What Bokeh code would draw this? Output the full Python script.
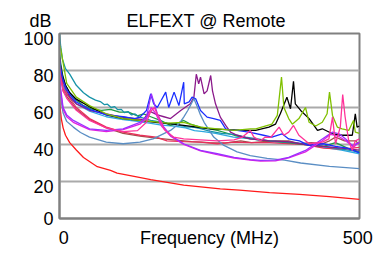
from bokeh.plotting import figure
from bokeh.models import FixedTicker, Range1d
from bokeh.embed import file_html
from bokeh.resources import INLINE

# ---- data (frequency MHz, level dB) ----
red_f = [0, 1, 3, 6, 10, 17, 28, 40, 63, 85, 96, 120, 152, 207, 268, 300, 350, 400, 450, 500]
red_v = [65, 60, 54, 49, 45, 41, 37, 33, 28, 26, 24.5, 23, 21, 18, 16, 15.3, 14, 13, 11.8, 10.3]

steel_f = [0, 2, 6, 12, 23, 35, 50, 78, 106, 134, 156, 185, 200, 207, 214, 218, 224, 229, 235, 241,
           257, 274, 296, 318, 346, 375, 402, 450, 500]
steel_v = [75, 65, 57, 52.5, 49.4, 46.5, 44, 41.3, 40.4, 41.3, 43, 47.6, 51.5, 54.8, 58.5, 61, 64.7, 61, 56, 52,
           44, 39.5, 36, 34, 32.5, 31.5, 30, 28.2, 27]

teal_f = [0, 2, 5, 10, 17, 28, 40, 50, 60, 68, 75, 80, 86, 92, 97, 103, 108, 114, 120, 126, 132, 140, 152,
          165, 180, 195, 210, 225, 235, 250, 270, 290, 310, 330, 350, 370, 390, 410, 430, 450, 470, 490, 500]
teal_v = [100, 93, 86, 81, 78, 72, 68, 65.6, 64, 63.2, 61.5, 61.8, 60, 60.5, 58.8, 59, 57.2, 57.8, 56, 56.5, 55, 54.2, 53,
          52.3, 51.5, 50.8, 49.6, 49.3, 48.6, 47.2, 46, 45.5, 44, 43, 42, 41.5, 41, 40.3, 39.5, 38.5, 37.5, 36.5, 35.8]

green_f = [0, 2, 5, 10, 17, 28, 40, 55, 70, 85, 100, 115, 130, 140, 152, 168, 185, 200, 207, 218, 235, 263,
           291, 318, 350, 380, 410, 440, 460, 480, 500]
green_v = [90, 84, 78, 72, 68, 64, 61, 59, 58.5, 59, 57.5, 57.5, 55.5, 56.5, 55, 53, 50.3, 52, 53, 51, 49.4, 47.6,
           45, 43, 42, 41, 40, 39, 41, 38, 36]

olive_f = [0, 2, 12, 28, 50, 78, 106, 134, 152, 180, 207, 235, 263, 291, 318, 327, 354, 363, 370, 374, 382, 388,
           399, 410, 416, 427, 438, 446, 450, 455, 463, 471, 482, 490, 493, 500]
olive_v = [94, 91.7, 73, 65.6, 61, 56.6, 54, 53, 52.5, 51.5, 52, 49.4, 48.5, 47.6, 48.5, 48.5, 51, 55.7, 76.4, 60, 54, 51,
           54, 60, 52, 50, 52, 56.6, 68.3, 55.7, 49.4, 48.5, 47.6, 53, 46.7, 46]

black_f = [0, 2, 5, 10, 17, 28, 50, 78, 106, 134, 160, 190, 220, 250, 280, 300, 327, 349, 360, 368, 379, 385,
           390, 393, 402, 416, 430, 438, 455, 471, 488, 493, 496, 500]
black_v = [87, 82, 77, 72, 68, 64.5, 60.5, 56, 54, 53, 52, 51, 49.8, 48.5, 48, 47.8, 47.6, 49.4, 51, 56.6, 65.6, 59.3,
           74.2, 62, 58.4, 54, 47.6, 48.5, 45.8, 45, 45, 56.6, 49.4, 50]

blue_f = [0, 2, 5, 10, 17, 28, 50, 78, 106, 125, 134, 145, 152, 157, 163, 168, 177, 182, 191, 199, 207, 208,
          216, 221, 227, 235, 246, 257, 268, 277, 285, 296, 318, 340, 354, 371, 382, 400, 415, 440, 460, 480, 500]
blue_v = [86, 81, 76, 71, 67, 63, 59, 56, 55, 54, 54.8, 58.4, 67.4, 62, 60, 63, 68.3, 60, 68.3, 61, 73.7, 62,
          63, 65.6, 64.7, 58.4, 54.8, 54, 53, 48.5, 47.6, 47.6, 46.5, 45, 44, 45.8, 43, 42, 39.5, 40.4, 39, 38, 35.5]

purple_f = [0, 2, 5, 10, 17, 28, 50, 100, 140, 150, 163, 174, 185, 202, 218, 224, 228, 232, 235, 241, 246,
            252, 255, 260, 268, 277, 285, 296, 318, 350, 380, 410, 440, 470, 500]
purple_v = [87, 81, 75, 70, 66, 62, 58.5, 55, 53.5, 58, 56, 55, 54, 58.4, 62, 65.6, 78, 72.8, 76.4, 67.4, 69,
            77.3, 69, 62, 54.8, 50.3, 46.7, 45, 43, 42, 41.5, 40, 39, 38, 37]

violet_f = [0, 2, 6, 12, 23, 50, 78, 106, 134, 145, 153, 158, 163, 174, 185, 207, 235, 263, 291, 318, 335,
            360, 382, 410, 438, 455, 466, 477, 488, 500]
violet_v = [80, 70, 60, 56, 53, 48.5, 47.6, 48.5, 52, 54.8, 67.4, 62, 56.6, 49.4, 45, 40.4, 36.8, 35, 33, 31.8, 31.4,
            31.5, 33, 36.8, 43, 46.7, 45.8, 43, 39.5, 41]

magenta_f = [0, 2, 6, 12, 23, 50, 78, 106, 134, 145, 153, 160, 170, 185, 207, 235, 263, 291, 318, 335, 360,
             382, 410, 438, 452, 465, 477, 490, 500]
magenta_v = [78, 68, 59, 55, 52, 48, 47, 48, 51, 54, 60, 57, 50, 44.5, 40, 36.5, 34.5, 32.7, 31.5, 31, 31.2,
             32.8, 36, 42, 45.5, 44.5, 42, 38.5, 41.5]

crimson_f = [0, 2, 6, 12, 28, 50, 78, 106, 134, 161, 179, 207, 235, 263, 291, 318, 350, 380, 410, 440, 470, 500]
crimson_v = [85, 78, 70, 67.5, 60, 54, 49.4, 46.7, 45, 44, 42, 41.5, 41.3, 40.4, 41.3, 41, 41, 40.5, 40, 38, 37.5, 38.5]

pink_f = [0, 2, 6, 12, 28, 50, 78, 106, 130, 145, 152, 158, 165, 175, 190, 207, 235, 263, 291, 305, 318, 324,
          335, 343, 352, 366, 374, 382, 390, 399, 416, 438, 449, 455, 460, 468, 472, 476, 482, 488, 493, 500]
pink_v = [82, 76, 69, 65, 58.5, 53, 49, 47, 47.5, 52, 58, 60, 55, 48, 44, 43, 42.5, 42, 42.5, 44, 47.6, 44,
          42, 44, 43.8, 49.4, 45, 46.7, 50.3, 45, 40.4, 41.3, 43, 54.8, 40.4, 49.4, 67, 55, 42, 36.8, 42, 43]

brown_f = [0, 2, 6, 12, 28, 50, 78, 106, 134, 161, 190, 220, 250, 275, 302, 320, 340, 360, 382, 400, 420, 438,
           450, 460, 475, 493, 500]
brown_v = [84, 77, 69, 66, 59, 53.5, 49, 46, 44.5, 43.5, 42.5, 41.5, 41, 40.8, 42, 41, 41.5, 42, 42, 40.5, 41, 40.4,
           42, 44, 42, 42, 40]

lblue_f = [0, 2, 6, 12, 28, 50, 78, 106, 130, 150, 170, 190, 210, 225, 240, 260, 290, 320, 350, 380, 410, 440, 470, 500]
lblue_v = [88, 80, 72, 67, 62, 58, 55, 53.5, 52.5, 51.5, 50.5, 50, 49, 47.5, 47, 46, 44, 43, 41.5, 41, 40, 38.5, 37, 35]

y_ticks = [0, 20, 40, 60, 80, 100]
y_tick_labels = ["0", "20", "40", "60", "80", "100"]
x_tick_labels = ["0", "Frequency (MHz)", "500"]
x_label_at = [0, 250, 500]
unit_text = "dB"
title_text = "ELFEXT @ Remote"

series = [
    (red_f, red_v, "#ff1a1a"),
    (lblue_f, lblue_v, "#2fa8e0"),
    (brown_f, brown_v, "#a0504a"),
    (crimson_f, crimson_v, "#e8305a"),
    (green_f, green_v, "#229944"),
    (teal_f, teal_v, "#1793a8"),
    (black_f, black_v, "#000000"),
    (purple_f, purple_v, "#8b1a8b"),
    (blue_f, blue_v, "#1a2eff"),
    (steel_f, steel_v, "#5a8ec4"),
    (olive_f, olive_v, "#80c000"),
    (magenta_f, magenta_v, "#e020e0"),
    (violet_f, violet_v, "#9b30ff"),
    (pink_f, pink_v, "#ff3399"),
]

FONT = "Liberation Sans"

p = figure(width=374, height=250, output_backend="svg", toolbar_location=None,
           title=unit_text + "\u00a0" * 15 + title_text,
           x_range=Range1d(0, 500), y_range=Range1d(0, 100),
           min_border_left=59, min_border_right=15, min_border_top=33, min_border_bottom=32)

p.title.align = "left"
p.title.offset = -30
p.title.text_font = FONT
p.title.text_font_size = "18px"
p.title.text_font_style = "normal"
p.title.text_color = "#000000"
p.title.standoff = 6

for f, v, c in series:
    p.line(f, v, line_color=c, line_width=1.3)

# tick labels: the original draws the y labels slightly below their grid lines
# and the x end labels slightly inward
y_shift = 2.8          # dB  (~5 px)
x_shift = [7, 0, -3]   # MHz
y_pos = [round(t - y_shift, 2) if t > 0 else t for t in y_ticks]
x_pos = [a + s for a, s in zip(x_label_at, x_shift)]

p.xaxis.ticker = FixedTicker(ticks=x_pos)
p.xaxis.major_label_overrides = {k: t for k, t in zip(x_pos, x_tick_labels)}
p.yaxis.ticker = FixedTicker(ticks=y_pos)
p.yaxis.major_label_overrides = {k: t for k, t in zip(y_pos, y_tick_labels)}
for ax in (p.xaxis[0], p.yaxis[0]):
    ax.major_tick_in = 0
    ax.major_tick_out = 0
    ax.minor_tick_in = 0
    ax.minor_tick_out = 0
    ax.axis_line_color = "#808080"
    ax.axis_line_width = 2
    ax.major_label_text_font = FONT
    ax.major_label_text_font_size = "18px"
    ax.major_label_text_color = "#000000"
p.yaxis.major_label_standoff = 6
p.xaxis.major_label_standoff = 9

p.xgrid.visible = False
p.ygrid.ticker = FixedTicker(ticks=y_ticks)
p.ygrid.grid_line_color = "#aaaaaa"
p.ygrid.grid_line_width = 2
p.outline_line_color = "#808080"
p.outline_line_width = 2

open("out.html", "w").write(file_html(p, INLINE))
